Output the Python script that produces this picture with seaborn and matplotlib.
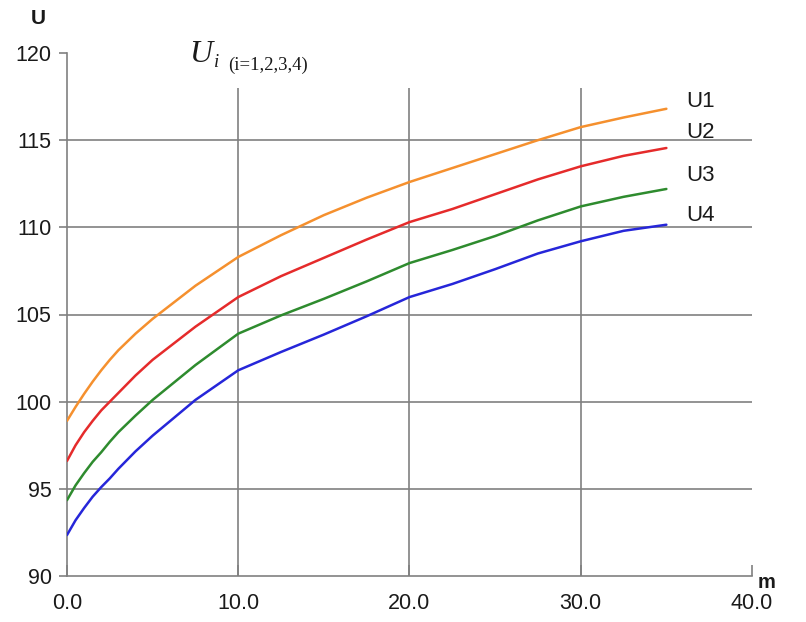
import numpy as np
import pandas as pd
import matplotlib
matplotlib.use("Agg")
import matplotlib.pyplot as plt
import seaborn as sns

# ---- data ----
m_values = [0, 0.5, 1, 1.5, 2, 2.5, 3, 4, 5, 7.5, 10, 12.5, 15, 17.5, 20,
            22.5, 25, 27.5, 30, 32.5, 35]
U1 = [98.9, 99.7, 100.45, 101.15, 101.8, 102.4, 102.95, 103.9, 104.75, 106.65, 108.3,
      109.55, 110.7, 111.7, 112.6, 113.4, 114.2, 115.0, 115.75, 116.3, 116.8]
U2 = [96.6, 97.5, 98.25, 98.9, 99.5, 100.0, 100.5, 101.5, 102.4, 104.3, 106.0,
      107.2, 108.25, 109.3, 110.3, 111.05, 111.9, 112.75, 113.5, 114.1, 114.55]
U3 = [94.35, 95.2, 95.9, 96.55, 97.1, 97.7, 98.25, 99.2, 100.1, 102.1, 103.9,
      104.95, 105.9, 106.9, 107.95, 108.7, 109.5, 110.4, 111.2, 111.75, 112.2]
U4 = [92.35, 93.2, 93.9, 94.55, 95.1, 95.6, 96.15, 97.15, 98.05, 100.1, 101.8,
      102.85, 103.85, 104.9, 106.0, 106.75, 107.6, 108.5, 109.2, 109.8, 110.15]
series_names = ["U1", "U2", "U3", "U4"]
series_colors = ["#F5902E", "#E52B2B", "#2E8B2E", "#2626D9"]
x_ticks = [0, 10, 20, 30, 40]
x_ticklabels = ["0.0", "10.0", "20.0", "30.0", "40.0"]
y_ticks = [90, 95, 100, 105, 110, 115, 120]

df = pd.DataFrame({
    "m": m_values * 4,
    "U": U1 + U2 + U3 + U4,
    "series": sum([[n] * len(m_values) for n in series_names], []),
})

sns.set_theme(style="white")
plt.rcParams["font.family"] = ["Liberation Sans", "DejaVu Sans"]

W, H = 806, 622
fig = plt.figure(figsize=(W / 100, H / 100), dpi=100)
ax = fig.add_axes([67 / W, 1 - 576 / H, (752 - 67) / W, (576 - 53) / H])

grid_c = "#808080"
text_c = "#1a1a1a"

# grid
for yv in y_ticks[1:-1]:
    ax.axhline(yv, color=grid_c, lw=1.2, zorder=1)
ax.vlines(x_ticks[1:-1], 90, 118, color=grid_c, lw=1.2, zorder=1)

sns.lineplot(data=df, x="m", y="U", hue="series", palette=series_colors,
             linewidth=1.8, legend=False, ax=ax, zorder=3)

ax.set_xlim(0, 40)
ax.set_ylim(90, 120)
ax.set_xticks(x_ticks)
ax.set_xticklabels(x_ticklabels)
ax.set_yticks(y_ticks)
ax.set_xlabel("")
ax.set_ylabel("")

for s in ["top", "right"]:
    ax.spines[s].set_visible(False)
for s in ["left", "bottom"]:
    ax.spines[s].set_color(grid_c)
    ax.spines[s].set_linewidth(1.2)

ax.tick_params(axis="y", direction="out", length=6, width=1.2, color=grid_c,
               labelsize=15.5, labelcolor=text_c, pad=5, left=True)
ax.tick_params(axis="x", direction="in", length=8, width=1.2, color=grid_c,
               labelsize=15.5, labelcolor=text_c, pad=12, bottom=True)

# series labels
label_y = [117.2, 115.45, 112.95, 110.7]
for name, ly in zip(series_names, label_y):
    ax.text(36.15, ly, name, fontsize=16, color=text_c, va="center", ha="left")

# axis labels
fig.text(38 / W, 1 - 18 / H, "U", fontsize=15, fontweight="bold", color=text_c,
         ha="center", va="center")
fig.text(767 / W, 1 - 582 / H, "m", fontsize=14.5, fontweight="bold", color=text_c,
         ha="center", va="center")

# title
fig.text(189 / W, 1 - 62 / H, "U", fontsize=23, fontstyle="italic",
         family="Liberation Serif", color=text_c, ha="left", va="baseline")
fig.text(214 / W, 1 - 67 / H, "i", fontsize=13.5, fontstyle="italic",
         family="Liberation Serif", color=text_c, ha="left", va="baseline")
fig.text(228 / W, 1 - 70 / H, "(i=1,2,3,4)", fontsize=13.5,
         family="Liberation Serif", color=text_c, ha="left", va="baseline")

fig.savefig("out.png", dpi=100, facecolor="white")
